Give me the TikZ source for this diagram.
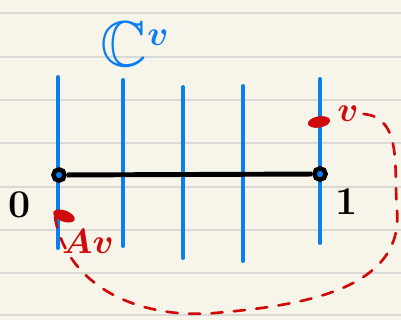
\documentclass[tikz,border=0pt]{standalone}
\usepackage{amssymb}
\usetikzlibrary{positioning,shapes.geometric}

\definecolor{paper}{HTML}{F7F5E9}
\definecolor{rule}{HTML}{D9D9D6}
\definecolor{penblue}{HTML}{0A7EF2}
\definecolor{penred}{HTML}{D00A0A}

\begin{document}
\begin{tikzpicture}[
  x=0.025cm, y=-0.025cm,
  fiber/.style={penblue, line width=2.8pt, line cap=round},
  pt/.style={circle, draw=black, line width=3.2pt, fill=penblue, inner sep=0pt, minimum size=8pt},
  reddot/.style={ellipse, fill=penred, inner sep=0pt, minimum width=16pt, minimum height=8pt},
  lbl/.style={font=\fontsize{28}{32}\selectfont\bfseries\boldmath},
  loop/.style={penred, line width=1.9pt, dash pattern=on 8pt off 8pt, line cap=round},
]
  % notebook paper
  \fill[paper] (0,0) rectangle (401,320);
  \useasboundingbox (0,0) rectangle (401,320);
  \foreach \y in {13,57,100,143,187,230,273,315}
    \draw[rule, line width=1.2pt] (0,\y) -- (401,\y);

  % the fibers
  \draw[fiber] (58,77) -- (58,248);
  \draw[fiber] (123,80) -- (123,246);
  \draw[fiber] (183,87) -- (183,258);
  \draw[fiber] (243,86) -- (243,261);
  \draw[fiber] (320,79) -- (320,243);
  \node[penblue, font=\fontsize{46}{52}\selectfont\boldmath] (cv) at (135,44) {$\mathbb{C}^{\raisebox{6pt}{$\scriptstyle v$}}$};

  % the interval
  \node[pt] (zero) at (59,175) {};
  \node[pt] (one) at (320,174) {};
  \draw[line width=3.5pt] (zero) -- (one);
  \node[lbl] (zerolbl) at (20,205) {0};
  \node[lbl] (onelbl) at (347,202) {1};

  % v and its image
  \node[reddot, rotate=10] (vdot) at (319,122) {};
  \node[reddot, rotate=-20] (avdot) at (64,216) {};
  \node[lbl, penred] (vlbl) at (348,114) {$v$};
  \node[lbl, penred] (avlbl) at (88,241) {$Av$};

  \coordinate (loopR) at (397,210);
  \coordinate (loopB) at (215,313);
  \draw[loop] (vlbl.east) to[out=-5,in=95] (loopR) to[out=-85,in=5] (loopB)
    to[out=185,in=-80] (avdot.south west);
\end{tikzpicture}
\end{document}
